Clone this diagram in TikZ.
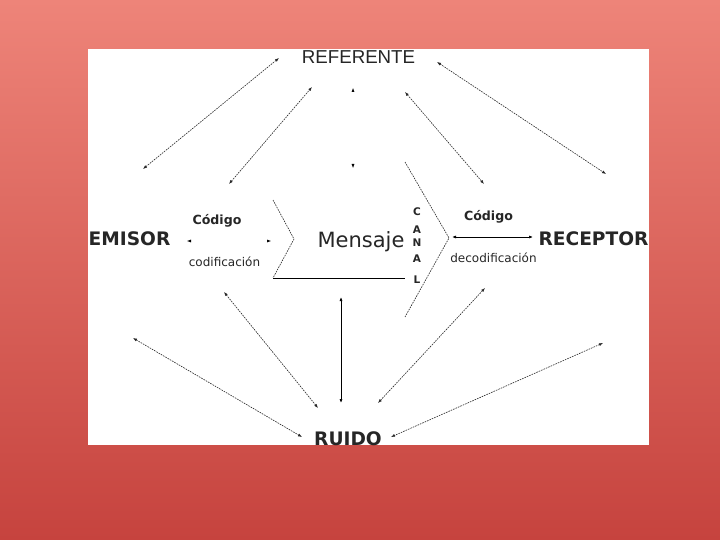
\documentclass[tikz,border=0pt]{standalone}
\usepackage{fontspec}
\setmainfont{DejaVu Sans}
\newfontfamily\arialfont{Liberation Sans}
\usetikzlibrary{arrows.meta}
\definecolor{bgtop}{HTML}{EE8479}
\definecolor{bgbot}{HTML}{C6433E}
\definecolor{ink}{HTML}{262626}
\tikzset{
  dotarrow/.style={{Latex[length=4pt,width=3pt]}-{Latex[length=4pt,width=3pt]}, draw=black!85, line width=0.6pt, dash pattern=on 1.6pt off 1pt},
  solidarrow/.style={{Latex[length=4pt,width=3pt]}-{Latex[length=4pt,width=3pt]}, draw=black, line width=0.7pt},
  ghostarrow/.style={{Latex[length=4pt,width=3pt,color=black]}-{Latex[length=4pt,width=3pt,color=black]}, draw=white, line width=0.5pt},
  chev/.style={draw=black!85, line width=0.6pt, dash pattern=on 1.6pt off 1pt},
  big/.style={font=\bfseries\fontsize{18.6}{20}\selectfont, text=ink, inner sep=0pt, anchor=base},
  small/.style={font=\fontsize{12}{14}\selectfont, text=ink, inner sep=0pt, anchor=base},
  smallb/.style={font=\bfseries\fontsize{12.6}{14}\selectfont, text=ink, inner sep=0pt, anchor=base},
  canal/.style={font=\bfseries\fontsize{10.5}{12}\selectfont, text=ink, inner sep=0pt, anchor=base},
}
\begin{document}
\begin{tikzpicture}[x=1pt,y=-1pt]
\useasboundingbox (0,0) rectangle (720,540);
\shade[top color=bgtop, bottom color=bgbot] (0,0) rectangle (720,540);
\fill[white] (88,49) rectangle (649,445);

% texts
\node[inner sep=0pt, anchor=base, text=ink, font=\arialfont\fontsize{18.7}{20}\selectfont] (ref) at (358.5,63.5) {REFERENTE};
\node[big] (emisor) at (129.5,245.5) {EMISOR};
\node[big] (receptor) at (593.5,245.5) {RECEPTOR};
\node[big] (ruido) at (348,445) {RUIDO};
\node[smallb] (cod1) at (217,225) {Código};
\node[small] (codif) at (224.5,266) {codificación};
\node[smallb] (cod2) at (488.5,221) {Código};
\node[small] (decod) at (493.5,262) {decodificación};
\node[inner sep=0pt, anchor=base, text=ink, font=\fontsize{21}{23}\selectfont] (mensaje) at (361,247.5) {Mensaje};
\node[canal] (c1) at (417,215) {C};
\node[canal] (c2) at (417,233.5) {A};
\node[canal] (c3) at (417,246.5) {N};
\node[canal] (c4) at (417,262.5) {A};
\node[canal] (c5) at (417,283) {L};

% chevrons
\coordinate (lct) at (273,200);
\coordinate (lcv) at (294,239);
\coordinate (lcb) at (273,278);
\coordinate (lce) at (405,278);
\draw[chev] (lct) -- (lcv) -- (lcb);
\draw[black, line width=0.8pt] (lcb) -- (lce);
\coordinate (rct) at (405,162);
\coordinate (rcv) at (449,238);
\coordinate (rcb) at (405,317);
\draw[chev] (rct) -- (rcv) -- (rcb);

% arrow end points
\coordinate (a1s) at (143,169); \coordinate (a1e) at (279,58);
\coordinate (a2s) at (229,184); \coordinate (a2e) at (312,87);
\coordinate (a3s) at (353,88);  \coordinate (a3e) at (353,168);
\coordinate (a4s) at (437,62);  \coordinate (a4e) at (606,174);
\coordinate (a5s) at (405,92);  \coordinate (a5e) at (484,184);
\coordinate (a6s) at (187,241); \coordinate (a6e) at (271,241);
\coordinate (a7s) at (452,237); \coordinate (a7e) at (533,237);
\coordinate (b1s) at (133,338); \coordinate (b1e) at (302,437);
\coordinate (b2s) at (224,292); \coordinate (b2e) at (318,408);
\coordinate (b3s) at (341,297); \coordinate (b3e) at (341,403);
\coordinate (b4s) at (485,288); \coordinate (b4e) at (378,403);
\coordinate (b5s) at (603,343); \coordinate (b5e) at (391,437);

\draw[dotarrow] (a1s) -- (a1e);
\draw[dotarrow] (a2s) -- (a2e);
\draw[ghostarrow] (a3s) -- (a3e);
\draw[dotarrow] (a4s) -- (a4e);
\draw[dotarrow] (a5s) -- (a5e);
\draw[ghostarrow] (a6s) -- (a6e);
\draw[solidarrow] (a7s) -- (a7e);
\draw[dotarrow] (b1s) -- (b1e);
\draw[dotarrow] (b2s) -- (b2e);
\draw[solidarrow] (b3s) -- (b3e);
\draw[dotarrow] (b4s) -- (b4e);
\draw[dotarrow] (b5s) -- (b5e);
\end{tikzpicture}
\end{document}
